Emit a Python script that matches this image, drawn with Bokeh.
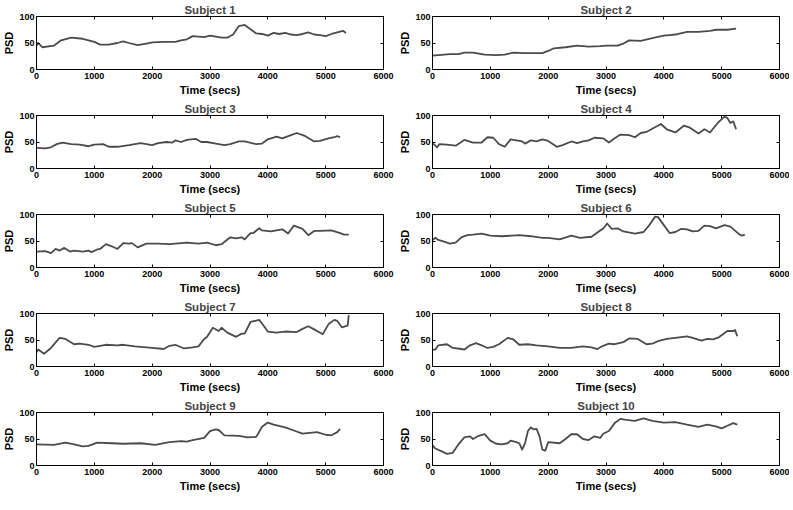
from bokeh.plotting import figure
from bokeh.layouts import gridplot
from bokeh.models import FixedTicker, LinearAxis
from bokeh.embed import file_html
from bokeh.resources import INLINE

# ---------------- data ----------------
subject_titles = ["Subject 1", "Subject 2", "Subject 3", "Subject 4", "Subject 5",
                  "Subject 6", "Subject 7", "Subject 8", "Subject 9", "Subject 10"]
x_ticks = [0, 1000, 2000, 3000, 4000, 5000, 6000]
y_ticks = [0, 50, 100]

t1 = [0, 30, 100, 300, 425, 600, 800, 1000, 1100, 1250, 1400, 1500, 1600, 1750, 1900, 2000, 2200,
      2400, 2500, 2600, 2700, 2800, 2900, 3000, 3100, 3200, 3300, 3400, 3500, 3600, 3700, 3800,
      3900, 4000, 4100, 4200, 4300, 4400, 4500, 4600, 4700, 4800, 4900, 5000, 5100, 5200, 5300, 5350]
psd1 = [45, 50, 42, 45, 55, 60, 58, 52, 47, 47, 50, 53, 50, 46, 49, 51, 52,
        52, 55, 57, 63, 62, 61, 64, 62, 60, 60, 66, 82, 84, 76, 68,
        67, 64, 69, 67, 69, 66, 65, 67, 70, 66, 65, 63, 67, 70, 73, 69]

t2 = [0, 100, 300, 450, 550, 700, 900, 1100, 1250, 1400, 1600, 1900, 2000, 2100, 2300, 2500, 2700,
      2900, 3000, 3200, 3300, 3400, 3600, 3800, 4000, 4100, 4200, 4400, 4600, 4800, 4900, 5100, 5250]
psd2 = [26, 27, 29, 29, 32, 32, 28, 27, 28, 32, 31, 31, 35, 40, 42, 45, 43,
        44, 45, 45, 49, 55, 54, 59, 64, 65, 66, 71, 71, 73, 75, 75, 77]

t3 = [0, 150, 250, 350, 450, 600, 750, 900, 1000, 1150, 1250, 1400, 1600, 1800, 2000, 2100, 2250,
      2350, 2400, 2500, 2600, 2750, 2850, 2950, 3100, 3250, 3350, 3500, 3600, 3800, 3900, 4000,
      4150, 4250, 4400, 4500, 4650, 4800, 4900, 5050, 5150, 5200, 5250]
psd3 = [39, 38, 40, 46, 49, 46, 45, 42, 45, 46, 41, 41, 44, 48, 44, 48, 50,
        49, 53, 50, 54, 56, 50, 50, 47, 44, 46, 51, 51, 46, 47, 55,
        60, 57, 63, 67, 61, 51, 52, 57, 59, 61, 59]

t4 = [0, 40, 80, 120, 250, 400, 500, 550, 700, 850, 950, 1050, 1150, 1250, 1350, 1450, 1550, 1600,
      1700, 1800, 1900, 2000, 2150, 2250, 2400, 2500, 2600, 2700, 2800, 2950, 3050, 3150, 3250,
      3400, 3500, 3600, 3700, 3800, 3950, 4050, 4200, 4350, 4450, 4600, 4700, 4800, 4850, 4950,
      5050, 5100, 5150, 5200, 5250]
psd4 = [48, 44, 40, 46, 45, 43, 50, 54, 49, 49, 59, 58, 46, 41, 55, 53, 51, 47,
        53, 51, 55, 52, 41, 44, 51, 48, 51, 53, 58, 57, 49, 57, 64,
        63, 59, 67, 69, 75, 84, 74, 68, 81, 77, 66, 74, 68, 75, 88,
        98, 95, 86, 89, 74]

t5 = [0, 150, 250, 330, 400, 480, 580, 650, 800, 900, 950, 1050, 1100, 1200, 1300, 1400, 1500,
      1600, 1650, 1750, 1900, 2100, 2300, 2500, 2600, 2800, 2950, 3100, 3200, 3350, 3450, 3550,
      3600, 3700, 3750, 3850, 3900, 4050, 4150, 4250, 4350, 4450, 4600, 4700, 4800, 4900, 5100,
      5250, 5320, 5400]
psd5 = [30, 31, 27, 35, 32, 37, 30, 32, 30, 32, 29, 34, 35, 44, 40, 35, 46,
        45, 46, 38, 45, 45, 44, 46, 47, 45, 47, 42, 44, 57, 55, 57,
        53, 65, 65, 74, 70, 68, 70, 72, 64, 79, 73, 61, 69, 69, 70,
        65, 62, 62]

t6 = [0, 50, 100, 200, 300, 400, 500, 600, 700, 850, 1000, 1200, 1500, 1700, 1900, 2000, 2200,
      2400, 2550, 2750, 2900, 2950, 3020, 3100, 3200, 3300, 3500, 3650, 3750, 3850, 3900, 4000,
      4100, 4200, 4300, 4400, 4500, 4600, 4700, 4800, 4900, 5050, 5150, 5300, 5350, 5400]
psd6 = [52, 56, 52, 49, 45, 47, 57, 61, 62, 64, 60, 59, 61, 59, 56, 56, 53,
        60, 56, 58, 70, 73, 83, 73, 74, 68, 64, 67, 80, 96, 95, 80,
        65, 67, 73, 72, 68, 69, 79, 78, 74, 80, 77, 63, 60, 62]

t7 = [0, 30, 130, 250, 350, 400, 500, 650, 750, 900, 1000, 1200, 1400, 1500, 1700, 2000, 2200,
      2300, 2400, 2550, 2700, 2800, 2900, 2950, 3050, 3150, 3200, 3300, 3450, 3550, 3600, 3700,
      3850, 3900, 4000, 4150, 4300, 4500, 4600, 4700, 4800, 4950, 5050, 5150, 5200, 5280, 5380, 5400]
psd7 = [27, 32, 24, 35, 48, 54, 52, 42, 43, 41, 37, 41, 40, 41, 38, 35, 33,
        39, 41, 34, 36, 38, 52, 56, 73, 67, 73, 64, 56, 62, 62, 84,
        88, 81, 66, 64, 66, 65, 71, 76, 70, 61, 80, 88, 86, 74, 77, 97]

t8 = [0, 50, 100, 250, 350, 500, 550, 650, 750, 850, 950, 1050, 1150, 1300, 1400, 1500, 1650,
      1800, 2000, 2200, 2400, 2600, 2750, 2850, 2950, 3050, 3150, 3300, 3400, 3550, 3700, 3800,
      3900, 4050, 4200, 4400, 4500, 4650, 4750, 4850, 4950, 5100, 5200, 5230, 5270]
psd8 = [32, 32, 40, 42, 35, 33, 32, 40, 44, 40, 35, 37, 42, 54, 51, 41, 42,
        40, 38, 35, 35, 38, 36, 33, 39, 43, 42, 46, 53, 52, 42, 43,
        48, 52, 54, 57, 54, 49, 52, 51, 55, 67, 67, 69, 57]

t9 = [0, 300, 500, 650, 800, 900, 1050, 1300, 1500, 1800, 2050, 2300, 2500, 2600, 2700, 2900,
      3000, 3100, 3150, 3250, 3500, 3650, 3800, 3900, 4000, 4100, 4300, 4450, 4600, 4850, 5000,
      5100, 5200, 5250]
psd9 = [40, 39, 43, 40, 36, 37, 43, 42, 41, 42, 39, 44, 46, 45, 48, 52,
        65, 68, 67, 57, 56, 53, 54, 73, 81, 77, 72, 66, 60, 63, 58,
        57, 63, 69]

t10 = [0, 50, 150, 250, 350, 450, 550, 650, 700, 800, 900, 1000, 1100, 1200, 1300, 1350, 1450,
       1500, 1550, 1600, 1650, 1700, 1750, 1800, 1850, 1900, 1950, 2000, 2200, 2300, 2400, 2500,
       2600, 2700, 2800, 2900, 2950, 3050, 3150, 3250, 3350, 3500, 3650, 3800, 4000, 4200, 4400,
       4600, 4750, 4900, 5000, 5100, 5200, 5270]
psd10 = [38, 32, 27, 22, 24, 40, 53, 55, 50, 56, 59, 47, 41, 40, 42, 47, 44,
         42, 30, 42, 65, 72, 68, 69, 55, 30, 28, 44, 42, 50, 59, 59,
         50, 48, 55, 52, 60, 65, 80, 88, 86, 84, 89, 84, 81, 82, 77,
         73, 77, 74, 70, 75, 80, 77]

series_t = [t1, t2, t3, t4, t5, t6, t7, t8, t9, t10]
series_psd = [psd1, psd2, psd3, psd4, psd5, psd6, psd7, psd8, psd9, psd10]

FONT = "Liberation Sans"
LINE_COLOR = "#4b4b4b"


def make_panel(idx):
    left_col = idx % 2 == 0
    p = figure(frame_width=347, frame_height=53,
               x_range=(0, 6000), y_range=(0, 100),
               output_backend="svg", toolbar_location=None,
               min_border_left=30, min_border_right=13 if left_col else 10,
               min_border_top=15, min_border_bottom=30,
               background_fill_color="white", border_fill_color="white")
    p.title.text = subject_titles[idx]
    p.title.align = "center"
    p.title.text_font = FONT
    p.title.text_font_size = "11.5px"
    p.title.text_font_style = "bold"
    p.title.standoff = 2
    p.title.offset = 0

    p.line(series_t[idx], series_psd[idx], line_color=LINE_COLOR, line_width=1.8,
           line_join="round")

    p.grid.visible = False
    p.outline_line_color = "black"
    p.outline_line_width = 1

    p.xaxis.ticker = FixedTicker(ticks=x_ticks)
    p.yaxis.ticker = FixedTicker(ticks=y_ticks)
    for ax in (p.xaxis[0], p.yaxis[0]):
        ax.major_tick_in = 3
        ax.major_tick_out = 0
        ax.minor_tick_line_color = None
        ax.axis_line_color = "black"
        ax.major_tick_line_color = "black"
        ax.major_label_text_font = FONT
        ax.major_label_text_font_size = "9px"
        ax.major_label_text_font_style = "bold"
        ax.major_label_text_color = "black"
        ax.axis_label_text_font = FONT
        ax.axis_label_text_font_size = "11px"
        ax.axis_label_text_font_style = "bold"
        ax.axis_label_text_color = "black"
    p.xaxis.major_label_standoff = 3
    p.xaxis.axis_label_standoff = 2
    p.yaxis.major_label_standoff = 2
    p.yaxis.axis_label_standoff = 1
    p.xaxis.axis_label = "Time (secs)"
    p.yaxis.axis_label = "PSD"

    # tick marks only (no labels) on the top and right edges of the box
    top = LinearAxis(ticker=FixedTicker(ticks=x_ticks))
    right = LinearAxis(ticker=FixedTicker(ticks=y_ticks))
    for ax in (top, right):
        ax.major_tick_in = 3
        ax.major_tick_out = 0
        ax.minor_tick_line_color = None
        ax.major_label_text_color = None
        ax.major_label_text_font_size = "1px"
        ax.major_label_standoff = 0
        ax.axis_line_color = "black"
        ax.major_tick_line_color = "black"
    p.add_layout(top, "above")
    p.add_layout(right, "right")
    return p


figs = [make_panel(i) for i in range(10)]
grid = gridplot(figs, ncols=2, toolbar_location=None)

open("out.html", "w").write(file_html(grid, INLINE))
